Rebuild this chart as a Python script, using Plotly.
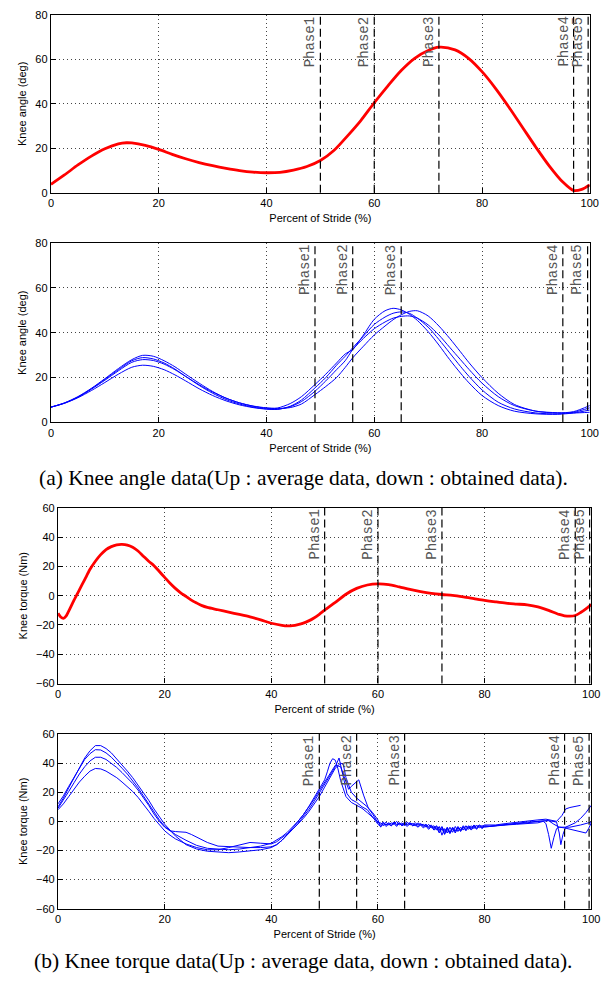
import plotly.graph_objects as go

# ---------------- data ----------------
# Panel (a) up: average knee angle (deg)
ANG_AVG_X = [0, 2.5, 5, 7.5, 10, 12.5, 14, 15, 17.5, 20, 22.5, 25, 27.5, 30, 32.5, 35, 37.5, 40, 42.5,
             45, 47.5, 50, 52.5, 55, 57.5, 60, 62.5, 65, 67.5, 70, 72, 75, 77.5, 80, 82.5, 85, 87.5,
             90, 92.5, 95, 97, 98.5, 100]
ANG_AVG_Y = [3.8, 8, 12.5, 16.5, 19.8, 22, 22.5, 22.4, 21.3, 19.5, 17.3, 15.3, 13.6, 12.2, 11, 10, 9.3, 9, 9.2,
             10.2, 11.8, 14.5, 19, 25.5, 32.5, 40.5, 48, 55, 60.5, 64, 65.5, 64.3, 60.5, 54.5, 47, 38.5, 29.5,
             20.5, 12, 4.8, 1, 1.5, 3.5]

# Panel (a) down: obtained knee angle (deg), four trials
ANG_OBS_X = [0, 2.5, 5, 7.5, 10, 12.5, 15, 17, 19, 21, 23, 25, 27.5, 30, 32.5, 35, 37.5, 40, 42, 44.4, 46.5,
             49, 51, 53, 54.6, 56, 58, 60, 62, 63.5, 65, 66.5, 68, 70, 72, 74, 76, 77.6, 80, 83, 86, 90, 94, 97, 100]
ANG_OBS_A = [6.8, 8.7, 11.5, 15.2, 19.5, 24, 28, 29.9, 29.5, 27.5, 24.8, 21.5, 17.5, 13.8, 10.8, 8.7, 7.3, 6.5, 6.4, 8.4, 11.5,
             16.9, 21.5, 26.5, 30.5, 32.5, 39, 46, 49.8, 50.9, 50.2, 48.3, 45.5, 40.5, 34.5, 28, 22, 17.6, 12, 7.5, 5, 3.8, 3.6, 4.2, 5.5]
ANG_OBS_B = [6.8, 8.6, 11.3, 15, 19.2, 23.5, 27.5, 28.9, 28.3, 26.5, 23.8, 20.5, 16.5, 13, 10.2, 8.2, 6.8, 6, 5.8, 7.2, 10,
             15.4, 20, 25.5, 29.5, 33.3, 38.5, 43.7, 47, 48.7, 49.3, 48.7, 46.5, 42.5, 37, 31, 25, 20.5, 14.5, 9, 6, 4.2, 3.8, 4.5, 6.5]
ANG_OBS_C = [6.8, 8.5, 11, 14.2, 17.8, 21.5, 24.6, 25.5, 25, 23.5, 21.2, 18.5, 15, 12, 9.6, 7.8, 6.6, 5.9, 5.8, 7, 9.3,
             13.9, 18.5, 23.5, 27.5, 32.5, 37.5, 41.8, 44.8, 46.5, 47.3, 47.5, 46.5, 43.5, 39, 33.5, 28, 23.6, 17.5, 11.5, 7.5, 5, 4.3, 4.2, 4.5]
ANG_OBS_D = [6.8, 8.6, 11.2, 14.8, 18.8, 23, 26.8, 28, 27.6, 26, 23.5, 20.5, 16.8, 13.5, 10.8, 8.7, 7.2, 6.3, 6.2, 6.6, 8.2,
             12.4, 16, 20, 24.5, 28.8, 34, 39, 43, 45.8, 48, 49.5, 49.8, 47.5, 43, 37.5, 31.5, 26.6, 20, 13, 8, 5, 4.2, 4.8, 7.5]

# Panel (b) up: average knee torque (Nm)
TRQ_AVG_X = [0, 0.5, 1, 1.5, 2, 3, 4, 5, 6, 7, 8, 9, 10, 11, 12, 13, 14, 15, 16, 17, 18, 19, 20, 21, 22, 23, 24,
             25, 26, 27, 28, 30, 32, 34, 36, 38, 40, 42, 43, 44, 45, 46, 47, 48, 49, 50, 52, 54, 56, 58, 60,
             62, 64, 66, 68, 70, 72, 74, 76, 78, 80, 82, 84, 86, 88, 90, 92, 94, 95, 96, 97, 98, 99, 100]
TRQ_AVG_Y = [-12, -14.5, -15.5, -14, -10.5, -3, 4, 11, 18, 23.5, 28, 31.5, 33.5, 34.7, 35, 34.5, 33, 30.5, 27, 23.5, 20.5, 16.5, 12.5, 8.5, 5, 2, -0.5,
             -3, -5, -6.8, -8, -9.6, -11.2, -12.8, -14.5, -16.5, -18.8, -20.2, -20.6, -20.4, -19.7, -18.7, -17.2, -15.2, -12.7, -9.8, -4.5, 1, 5, 7.3, 8.1,
             7.6, 6, 4.3, 2.8, 1.6, 0.8, 0.2, -0.8, -2, -3.2, -4.2, -5.1, -5.7, -6.3, -7.6, -10, -12.8, -13.7, -14, -13.5, -11.5, -9, -6]

# Panel (b) down: obtained knee torque (Nm), four trials
TRQ_NOISE_X = [60.5, 61, 61.5, 62, 62.5, 63, 63.5, 64, 64.5, 65, 65.5, 66, 66.5, 67, 67.5, 68, 68.5, 69, 69.5, 70,
               70.5, 71, 71.5, 72, 72.5, 73, 73.5, 74, 74.5, 75, 75.5, 76, 76.5, 77, 77.5, 78, 78.5, 79, 79.5, 80]

T1_X = [0, 1, 2, 3, 4, 5, 6, 7, 8, 9, 10, 11, 12, 13, 14, 15, 16, 17, 18, 19, 20, 22, 24, 26, 28, 30, 32, 34, 36, 38, 40,
        41, 42, 43, 44, 45, 46, 47, 48, 49, 50, 51, 52, 52.7, 53.5, 54.2, 55, 56, 57, 58, 59, 60] + TRQ_NOISE_X + \
       [81, 82, 84, 86, 88, 90, 91, 91.5, 92, 92.5, 93, 93.5, 94, 96, 98, 99, 100]
T1_Y = [10, 16, 23, 30, 37, 43.5, 48.5, 52, 52, 50, 47, 43, 39, 34.5, 30, 25, 20, 14.5, 8.5, 3, -2, -10, -16, -19, -20.5, -21, -21.5, -21, -20.5, -19.5, -18,
        -16, -13, -9.5, -5.5, -1.5, 3, 8, 13.5, 19.5, 26, 32, 37.5, 43.5, 30, 19, 15, 13, 10, 8, 3, -2] + \
       [-3.5, -1, -2.5, -1.5, -3, -1, -2.5, -1.5, -3, -1.5, -2.5, -1, -3, -2, -3.5, -2, -3.5, -2.5, -4.5, -3,
        -5.5, -3.5, -7, -4, -8.5, -4.5, -8, -4.5, -7, -4, -6.5, -3.5, -6, -3.5, -5.5, -3, -5, -3, -4.5, -3] + \
       [-3.5, -3, -2.5, -2, -1.5, -1, 0, -1.5, -9, -18.5, -11, -5, -4, -4, -2.5, -1.5, -0.5]

T2_X = [0, 1, 2, 3, 4, 5, 6, 7, 8, 9, 10, 11, 12, 13, 14, 15, 16, 17, 18, 19, 20, 21, 22, 24, 26, 28, 30, 32, 34, 36, 38, 40,
        41, 42, 43, 44, 45, 46, 47, 48, 49, 50, 51, 51.5, 52, 53, 54, 54.5, 55, 56.4, 57.3, 58.2, 59, 59.5, 60] + TRQ_NOISE_X + \
       [82, 84, 86, 88, 90, 92, 93.5, 94, 94.3, 94.7, 95.2, 96, 97, 98, 99, 100]
T2_Y = [12, 17.5, 24, 30.5, 37, 42.5, 46.5, 49.2, 49, 47, 44, 40.5, 36.5, 32.5, 28, 23, 17.5, 12, 6, 1, -3.5, -6.5, -9, -13, -16.5, -18.5, -19, -19.5, -19, -18, -17, -15,
        -13, -10.5, -7.5, -4, 0, 4.5, 9.5, 15, 21, 27, 33, 36, 38.5, 37.5, 28, 22, 24, 28.5, 18, 9, 5, 1.5, -1] + \
       [-1, -3, -0.5, -2.5, -1, -2, 0, -2.5, -1, -3, -0.5, -2.5, -1.5, -3, -1, -2.5, -2, -4, -2, -4.5,
        -3, -6, -3.5, -9.5, -5, -8, -4, -7.5, -3.5, -7, -4, -6, -3, -5.5, -3, -5, -2.5, -4.5, -3, -4] + \
       [-3, -2, -1, -0.5, 0, 0.5, -0.5, -8, -16, -9, -4, -2.5, -1, 2, 6, 11]

T3_X = [0, 1, 2, 3, 4, 5, 6, 7, 8, 9, 10, 11, 12, 13, 14, 15, 16, 17, 18, 19, 20, 21, 22, 23, 24, 25, 26, 28, 30, 32, 34, 36, 38, 40,
        41, 42, 43, 44, 45, 46, 47, 48, 49, 50, 50.5, 51, 51.5, 52, 52.5, 53, 54, 55, 56, 57, 58, 59, 60] + TRQ_NOISE_X + \
       [82, 84, 86, 88, 90, 91.5, 92.5, 93.5, 94.5, 95.2, 96, 97, 98]
T3_Y = [9, 14.5, 20.5, 26.5, 32.5, 37.5, 41.5, 44, 44, 42.5, 40, 37, 33.5, 30, 26, 21.5, 16.5, 11, 5, 0, -4, -6.5, -7, -7, -7.5, -9, -11, -14.5, -17, -17.5, -17.5, -18, -18, -17.5,
        -16, -13, -9, -4.5, -0.5, 4.5, 10, 16, 22, 28.5, 34, 40, 43, 42, 36, 28, 17, 13, 11, 9, 6, 3, 0] + \
       [-2, -0.5, -2.5, -1, -2, -0.5, -2, -1, -2.5, -0.5, -2, -1, -2, -1, -2.5, -1.5, -3, -2, -3.5, -2.5,
        -4.5, -3, -6, -3.5, -7, -4, -7.5, -4, -6.5, -3.5, -6, -3, -5, -3, -4.5, -2.5, -4, -2.5, -3.5, -2.5] + \
       [-2.5, -1.5, -0.5, 0.5, 1, 1.5, 1, 0, 4, 8.5, 9.5, 10, 11]

T4_X = [0, 1, 2, 3, 4, 5, 6, 7, 8, 9, 10, 11, 12, 13, 14, 15, 16, 17, 18, 19, 20, 21, 22, 24, 26, 28, 30, 32, 34, 36, 38, 40,
        41, 42, 43, 44, 45, 46, 47, 48, 49, 50, 51, 52, 53, 53.5, 54, 55, 56, 57, 58, 59, 60] + TRQ_NOISE_X + \
       [82, 84, 86, 88, 90, 92, 93, 94, 95, 96.5, 98, 99, 99.5, 100]
T4_Y = [8, 12, 17, 22, 27, 31, 34.5, 36.3, 36, 34.5, 32.5, 30, 27, 24, 20.5, 16.5, 12, 7, 2, -2.5, -6.5, -9.5, -12, -15.5, -18, -19.5, -19.5, -18, -16, -14.5, -15, -15.5,
        -14, -11.5, -8.5, -5.5, -2, 2, 6.5, 11.5, 17, 23.5, 30, 36.5, 40, 39, 30, 20, 16, 13, 10, 6, 1] + \
       [-4, -1.5, -3.5, -2, -3, -1.5, -3.5, -1, -3, -2, -3.5, -1.5, -3, -2.5, -4, -2.5, -4.5, -3, -5.5, -3.5,
        -6, -4.5, -8, -5, -9, -5.5, -8.5, -5, -8, -4.5, -7, -4, -6.5, -4, -6, -3.5, -5.5, -3, -5, -3.5] + \
       [-3, -2.5, -2, -1, 0, 0.5, -2, -4, -4.5, -6, -7.5, -8, -5, -1]

PHASE_NAMES = ["Phase1", "Phase2", "Phase3", "Phase4", "Phase5"]
PHASES_AVG = [50, 60, 72, 97, 99.7]
PHASES_OBS = [49, 56, 65, 95, 99.6]

CAPTION_A = "(a) Knee angle data(Up : average data, down : obtained data)."
CAPTION_B = "(b) Knee torque data(Up : average data, down : obtained data)."

# ---------------- figure ----------------
# The page body has an 8px default margin; positions below are window pixels.
OFF = 8
W, H = 612 - OFF, 983 - 2 * OFF
RED = "#FF0000"
BLUE = "#0000FF"
SANS = "Liberation Sans, Arial, sans-serif"


def xd(px):
    return min(1.0, max(0.0, (px - OFF) / W))


def yd(py):
    return min(1.0, max(0.0, 1 - (py - OFF) / H))


panels = [
    dict(n="", xdom=[xd(48.8), xd(598.5)], ydom=[yd(189), yd(9)], yr=[0, 80], yt=[0, 20, 40, 60, 80],
         ytitle="Knee angle (deg)", xtitle="Percent of Stride (%)", phases=PHASES_AVG),
    dict(n="2", xdom=[xd(48.8), xd(598.5)], ydom=[yd(421.5), yd(240)], yr=[0, 80], yt=[0, 20, 40, 60, 80],
         ytitle="Knee angle (deg)", xtitle="Percent of Stride (%)", phases=PHASES_OBS),
    dict(n="3", xdom=[xd(56), xd(600)], ydom=[yd(686), yd(508)], yr=[-60, 60], yt=[-60, -40, -20, 0, 20, 40, 60],
         ytitle="Knee torque (Nm)", xtitle="Percent of stride (%)", phases=PHASES_AVG),
    dict(n="4", xdom=[xd(56), xd(600)], ydom=[yd(914), yd(737)], yr=[-60, 60], yt=[-60, -40, -20, 0, 20, 40, 60],
         ytitle="Knee torque (Nm)", xtitle="Percent of Stride (%)", phases=PHASES_OBS),
]

fig = go.Figure()


def add_line(x, y, n, color, width, shape="spline"):
    line = dict(color=color, width=width, shape=shape)
    if shape == "spline":
        line["smoothing"] = 0.8
    fig.add_trace(go.Scatter(x=x, y=y, mode="lines", xaxis="x" + n, yaxis="y" + n,
                             line=line, showlegend=False, hoverinfo="skip"))


add_line(ANG_AVG_X, ANG_AVG_Y, "", RED, 2.8)
for ys in [ANG_OBS_A, ANG_OBS_B, ANG_OBS_C, ANG_OBS_D]:
    add_line(ANG_OBS_X, ys, "2", BLUE, 1.0)
add_line(TRQ_AVG_X, TRQ_AVG_Y, "3", RED, 2.8)
for xs, ys in [(T1_X, T1_Y), (T2_X, T2_Y), (T3_X, T3_Y), (T4_X, T4_Y)]:
    add_line(xs, ys, "4", BLUE, 1.0, shape="linear")

layout = dict(width=W, height=H, margin=dict(l=0, r=0, t=0, b=0),
              paper_bgcolor="white", plot_bgcolor="white", showlegend=False)
shapes, annotations = [], []
for p in panels:
    n = p["n"]
    axcommon = dict(showline=True, linecolor="black", linewidth=1.4, mirror=True,
                    ticks="inside", ticklen=5, tickwidth=1, tickcolor="black",
                    showgrid=True, gridcolor="#444444", gridwidth=1, griddash="1px,3px",
                    zeroline=False, tickfont=dict(family=SANS, size=11, color="black"))
    layout["xaxis" + n] = dict(axcommon, domain=p["xdom"], range=[0, 100], anchor="y" + n,
                               tickvals=[0, 20, 40, 60, 80, 100],
                               title=dict(text=p["xtitle"], font=dict(family=SANS, size=11, color="black"), standoff=6))
    layout["yaxis" + n] = dict(axcommon, domain=p["ydom"], range=p["yr"], anchor="x" + n,
                               tickvals=p["yt"],
                               title=dict(text=p["ytitle"], font=dict(family=SANS, size=11, color="black"), standoff=6))
    for name, px in zip(PHASE_NAMES, p["phases"]):
        shapes.append(dict(type="line", xref="x" + n, yref="y" + n + " domain", x0=px, x1=px, y0=0, y1=1,
                           line=dict(color="black", width=1.2, dash="8px,4px")))
        annotations.append(dict(x=px, xref="x" + n, y=1, yref="y" + n + " domain", text=name,
                                textangle=-90, xanchor="right", yanchor="top", showarrow=False,
                                font=dict(family="Liberation Mono, Courier New, monospace", size=14, color="#555555")))

annotations.append(dict(x=xd(306), xref="paper", y=yd(478), yref="paper", text=CAPTION_A, showarrow=False,
                        xanchor="center", yanchor="middle",
                        font=dict(family="Liberation Serif, Times New Roman, serif", size=21.5, color="black")))
annotations.append(dict(x=xd(306), xref="paper", y=yd(967), yref="paper", text=CAPTION_B, showarrow=False,
                        xanchor="center", yanchor="middle",
                        font=dict(family="Liberation Serif, Times New Roman, serif", size=21.5, color="black")))

layout["shapes"] = shapes
layout["annotations"] = annotations
fig.update_layout(**layout)
fig.write_html("out.html")
